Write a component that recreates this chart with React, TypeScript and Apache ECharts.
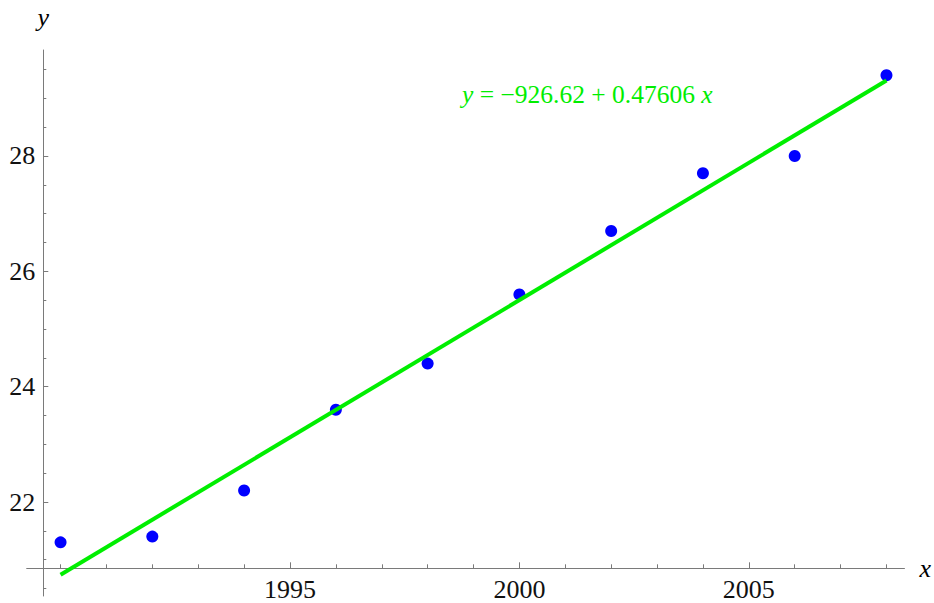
import React, { useEffect, useRef } from "react";
import * as echarts from "echarts";

// Data
const years = [1990, 1992, 1994, 1996, 1998, 2000, 2002, 2004, 2006, 2008];
const values = [21.3, 21.4, 22.2, 23.6, 24.4, 25.6, 26.7, 27.7, 28.0, 29.4];
// Fitted line endpoints (y = -926.62 + 0.47606 x at 1990 and 2008)
const fitX = [1990, 2008];
const fitY = [20.74, 29.31];

const xMajorTicks = [1995, 2000, 2005];
const xMinorTicks = [1990, 1991, 1992, 1993, 1994, 1996, 1997, 1998, 1999, 2001, 2002, 2003, 2004, 2006, 2007, 2008];
const yMajorTicks = [22, 24, 26, 28];
const yMinorTicks = [20.5, 21, 21.5, 22.5, 23, 23.5, 24.5, 25, 25.5, 26.5, 27, 27.5, 28.5, 29, 29.5];

const xRange = [1989.262, 2008.392];
const yRange = [20.37, 29.838];
const equation = "{i|y} = \u2212926.62 + 0.47606 {i|x}";

const SERIF = "'Liberation Serif', 'Times New Roman', serif";
const AXIS_COLOR = "#7a7a7a";
const GREEN = "#00ee00";

export default function App() {
  const ref = useRef<HTMLDivElement>(null);

  useEffect(() => {
    if (!ref.current) return;
    const chart = echarts.init(ref.current, undefined, { renderer: "svg" });

    const baseX = {
      type: "value",
      position: "bottom",
      min: xRange[0],
      max: xRange[1],
      offset: -27.7,
      splitLine: { show: false },
    };
    const baseY = {
      type: "value",
      position: "left",
      min: yRange[0],
      max: yRange[1],
      offset: -16.6,
      splitLine: { show: false },
    };

    chart.setOption({
      animation: false,
      backgroundColor: "#ffffff",
      grid: { left: 26.7, right: 26, top: 50, bottom: 7, containLabel: false },
      xAxis: [
        {
          ...baseX,
          name: "x",
          nameLocation: "end",
          nameGap: 15,
          nameTextStyle: {
            fontFamily: SERIF,
            fontStyle: "italic",
            fontSize: 26,
            color: "#000",
            verticalAlign: "middle",
          },
          axisLine: { show: true, lineStyle: { color: AXIS_COLOR, width: 1 } },
          axisTick: {
            show: true,
            inside: true,
            length: 6,
            customValues: xMajorTicks,
            lineStyle: { color: AXIS_COLOR, width: 1 },
          },
          axisLabel: {
            show: true,
            customValues: xMajorTicks,
            formatter: (v: number) => String(v),
            margin: 8,
            fontFamily: SERIF,
            fontSize: 26,
            color: "#111",
          },
        },
        {
          ...baseX,
          axisLine: { show: false },
          axisTick: {
            show: true,
            inside: true,
            length: 4,
            customValues: xMinorTicks,
            lineStyle: { color: AXIS_COLOR, width: 1 },
          },
          axisLabel: { show: false },
        },
      ],
      yAxis: [
        {
          ...baseY,
          name: "y",
          nameLocation: "end",
          nameGap: 20,
          nameTextStyle: {
            fontFamily: SERIF,
            fontStyle: "italic",
            fontSize: 26,
            color: "#000",
            align: "center",
          },
          axisLine: { show: true, lineStyle: { color: AXIS_COLOR, width: 1 } },
          axisTick: {
            show: true,
            inside: true,
            length: 5,
            customValues: yMajorTicks,
            lineStyle: { color: AXIS_COLOR, width: 1 },
          },
          axisLabel: {
            show: true,
            customValues: yMajorTicks,
            formatter: (v: number) => String(v),
            margin: 8,
            fontFamily: SERIF,
            fontSize: 26,
            color: "#111",
          },
        },
        {
          ...baseY,
          axisLine: { show: false },
          axisTick: {
            show: true,
            inside: true,
            length: 3,
            customValues: yMinorTicks,
            lineStyle: { color: AXIS_COLOR, width: 1 },
          },
          axisLabel: { show: false },
        },
      ],
      series: [
        {
          type: "scatter",
          xAxisIndex: 0,
          yAxisIndex: 0,
          data: years.map((y, i) => [y, values[i]]),
          symbol: "circle",
          symbolSize: 12,
          itemStyle: { color: "#0000ff", opacity: 1 },
          z: 2,
        },
        {
          type: "line",
          xAxisIndex: 0,
          yAxisIndex: 0,
          data: fitX.map((x, i) => [x, fitY[i]]),
          showSymbol: false,
          symbol: "none",
          lineStyle: { color: GREEN, width: 4 },
          z: 3,
        },
      ],
      graphic: [
        {
          type: "text",
          x: 462,
          y: 94,
          style: {
            text: equation,
            fill: GREEN,
            fontFamily: SERIF,
            fontSize: 25.5,
            verticalAlign: "middle",
            align: "left",
            rich: {
              i: {
                fontFamily: SERIF,
                fontStyle: "italic",
                fontSize: 25.5,
                fill: GREEN,
              },
            },
          },
        },
      ],
    });

    return () => chart.dispose();
  }, []);

  return (
    <div
      ref={ref}
      style={{ position: "fixed", left: 0, top: 0, width: 934, height: 603 }}
    />
  );
}
